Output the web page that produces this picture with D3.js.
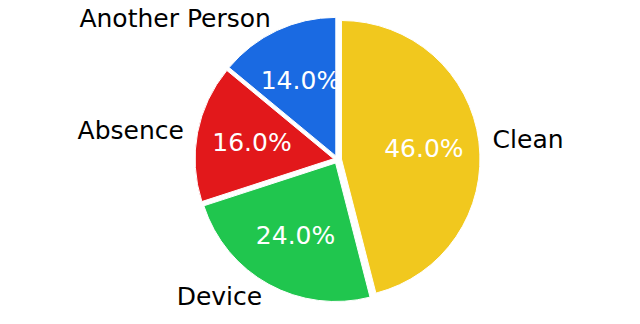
<!DOCTYPE html>
<html lang="en">
<head>
    <meta charset="utf-8">
    <title>Pie chart</title>
    <style>
        body { margin: 0; background: #fff; }
        text { font-family: 'DejaVu Sans', sans-serif; }
    </style>
</head>
<body>
    <svg id="chart" width="640" height="324"></svg>
    <script src="https://d3js.org/d3.v7.min.js"></script>
    <script>
    // data
    const labels = ["Clean", "Device", "Absence", "Another Person"];
    const values = [46, 24, 16, 14];
    const colors = ["#f1c81e", "#20c64e", "#e2181b", "#1a6ae2"];

    const cx = 337.5, cy = 159.5, radius = 138.5, explode = 4;

    let svg = d3.select("#chart");
    let g = svg.append("g")
        .attr("transform", "translate(" + cx + "," + cy + ")");

    const total = d3.sum(values);
    let pie = d3.pie().sort(null).value(d => d.value);
    let arcs = pie(labels.map((l, i) => ({label: l, value: values[i], color: colors[i]})));

    let arc = d3.arc().innerRadius(0).outerRadius(radius);

    // unit vector for the middle of a slice (d3 angles: 0 at top, clockwise)
    const dir = d => {
        let a = (d.startAngle + d.endAngle) / 2;
        return [Math.sin(a), -Math.cos(a)];
    };

    let slice = g.selectAll("g.slice")
        .data(arcs)
        .join("g")
        .attr("class", "slice")
        .attr("transform", d => {
            let [ux, uy] = dir(d);
            return "translate(" + ux * explode + "," + uy * explode + ")";
        });

    slice.append("path")
        .attr("d", arc)
        .attr("fill", d => d.data.color)
        .attr("stroke", "#fff")
        .attr("stroke-width", 1);

    // outer labels
    slice.append("text")
        .attr("x", d => dir(d)[0] * radius * 1.1)
        .attr("y", d => dir(d)[1] * radius * 1.1)
        .attr("dy", "0.34em")
        .attr("text-anchor", d => dir(d)[0] > 0 ? "start" : "end")
        .style("font-size", "25px")
        .attr("fill", "#000")
        .text(d => d.data.label);

    // percentage labels
    slice.append("text")
        .attr("x", d => dir(d)[0] * radius * 0.6)
        .attr("y", d => dir(d)[1] * radius * 0.6)
        .attr("dy", "0.33em")
        .attr("text-anchor", "middle")
        .style("font-size", "25px")
        .attr("fill", "#fff")
        .text(d => d3.format(".1f")(d.data.value / total * 100) + "%");
    </script>
</body>
</html>
